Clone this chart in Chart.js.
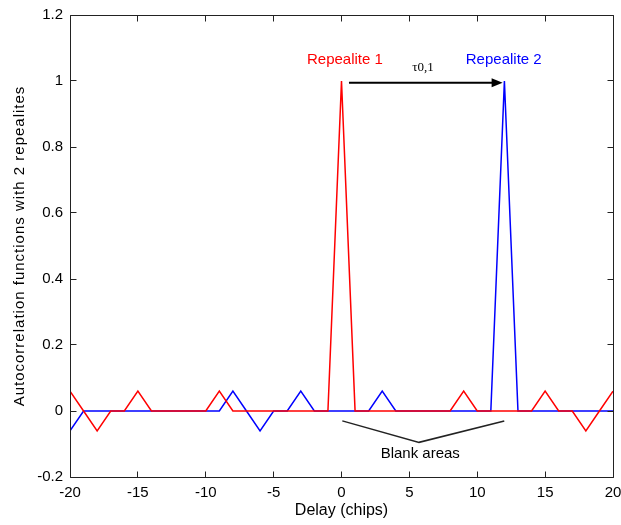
<!DOCTYPE html>
<html>
<head>
<meta charset="utf-8">
<script src="https://cdn.jsdelivr.net/npm/chart.js@4"></script>
<style>
  html, body { margin: 0; padding: 0; background: #fff; }
  canvas { display: block; }
</style>
</head>
<body>
<canvas id="acfChart" width="621" height="525"></canvas>
<script>
// delay axis (chips)
const delays = [-20, -19, -18, -17, -16, -15, -14, -13, -12, -11, -10, -9, -8, -7, -6, -5, -4, -3, -2, -1,
                0, 1, 2, 3, 4, 5, 6, 7, 8, 9, 10, 11, 12, 13, 14, 15, 16, 17, 18, 19, 20];

// autocorrelation of repealite 1 (peak at 0)
const repealite1 = [0.06, 0, -0.06, 0, 0, 0.06, 0, 0, 0, 0, 0, 0.06, 0, 0, 0, 0, 0, 0, 0, 0,
                    1, 0, 0, 0, 0, 0, 0, 0, 0, 0.06, 0, 0, 0, 0, 0, 0.06, 0, 0, -0.06, 0, 0.06];

// autocorrelation of repealite 2 (peak at 12)
const repealite2 = [-0.06, 0, 0, 0, 0, 0, 0, 0, 0, 0, 0, 0, 0.06, 0, -0.06, 0, 0, 0.06, 0, 0,
                    0, 0, 0, 0.06, 0, 0, 0, 0, 0, 0, 0, 0, 1, 0, 0, 0, 0, 0, 0, 0, 0];

const xTicks = [-20, -15, -10, -5, 0, 5, 10, 15, 20];
const yTicks = [-0.2, 0, 0.2, 0.4, 0.6, 0.8, 1, 1.2];

const xTitle = 'Delay (chips)';
const yTitle = 'Autocorrelation functions with 2 repealites';

// text annotations (data coordinates)
const notes = [
    { text: 'Repealite 1', x: 0.25, y: 1.064, color: '#ff0000' },
    { text: 'Repealite 2', x: 11.95, y: 1.064, color: '#0000ff' },
    { text: 'Blank areas', x: 5.8, y: -0.13, color: '#000000' }
];
const tauNote = { text: 'τ0,1', x: 6.0, y: 1.04 };
const arrowFrom = [0.55, 0.995];
const arrowTo = [11.87, 0.995];
const bracePts = [[0.06, -0.03], [5.71, -0.095], [11.99, -0.03]];

const FONT = '"Liberation Sans", Arial, sans-serif';

// 축, 눈금 (MATLAB 스타일 박스 + 안쪽 눈금)
const boxAxes = {
    id: 'boxAxes',
    afterDatasetsDraw(chart) {
        const { ctx, chartArea: a, scales: { x, y } } = chart;
        const tl = 6;
        const L = Math.floor(a.left) + 0.5, R = Math.floor(a.right) + 0.5;
        const T = Math.floor(a.top) + 0.5, B = Math.floor(a.bottom) + 0.5;
        ctx.save();
        ctx.strokeStyle = '#222';
        ctx.lineWidth = 1;
        ctx.beginPath();
        ctx.rect(L, T, R - L, B - T);
        xTicks.forEach(v => {
            const px = Math.floor(x.getPixelForValue(v)) + 0.5;
            ctx.moveTo(px, B); ctx.lineTo(px, B - tl);
            ctx.moveTo(px, T); ctx.lineTo(px, T + tl);
        });
        yTicks.forEach(v => {
            const py = Math.floor(y.getPixelForValue(v)) + 0.5;
            ctx.moveTo(L, py); ctx.lineTo(L + tl, py);
            ctx.moveTo(R, py); ctx.lineTo(R - tl, py);
        });
        ctx.stroke();

        // y 축 제목 (글자 간격 넓게)
        ctx.font = '15px ' + FONT;
        ctx.fillStyle = '#000';
        ctx.textAlign = 'center';
        ctx.textBaseline = 'middle';
        if ('letterSpacing' in ctx) ctx.letterSpacing = '1px';
        ctx.translate(20, (a.top + a.bottom) / 2);
        ctx.rotate(-Math.PI / 2);
        ctx.fillText(yTitle, 0, 0);
        ctx.restore();
    }
};

// 주석: 라벨, 화살표, 괄호선
const annotations = {
    id: 'annotations',
    afterDatasetsDraw(chart) {
        const { ctx, scales: { x, y } } = chart;
        ctx.save();
        ctx.textAlign = 'center';
        ctx.textBaseline = 'middle';
        ctx.font = '15px ' + FONT;
        notes.forEach(n => {
            ctx.fillStyle = n.color;
            ctx.fillText(n.text, x.getPixelForValue(n.x), y.getPixelForValue(n.y));
        });
        ctx.font = '13px "Liberation Serif", "Times New Roman", serif';
        ctx.fillStyle = '#000';
        ctx.fillText(tauNote.text, x.getPixelForValue(tauNote.x), y.getPixelForValue(tauNote.y));

        // arrow
        const x0 = x.getPixelForValue(arrowFrom[0]);
        const x1 = x.getPixelForValue(arrowTo[0]);
        const ya = y.getPixelForValue(arrowFrom[1]);
        ctx.strokeStyle = '#000';
        ctx.lineWidth = 2;
        ctx.beginPath();
        ctx.moveTo(x0, ya);
        ctx.lineTo(x1 - 8, ya);
        ctx.stroke();
        ctx.beginPath();
        ctx.moveTo(x1, ya);
        ctx.lineTo(x1 - 11, ya - 4.5);
        ctx.lineTo(x1 - 11, ya + 4.5);
        ctx.closePath();
        ctx.fill();

        // blank areas bracket
        ctx.strokeStyle = '#222';
        ctx.lineWidth = 1.5;
        ctx.beginPath();
        bracePts.forEach((p, i) => {
            const px = x.getPixelForValue(p[0]);
            const py = y.getPixelForValue(p[1]);
            if (i === 0) ctx.moveTo(px, py); else ctx.lineTo(px, py);
        });
        ctx.stroke();
        ctx.restore();
    }
};

const ctx = document.getElementById('acfChart').getContext('2d');
new Chart(ctx, {
    type: 'line',
    data: {
        datasets: [
            {
                label: 'Repealite 1',
                data: delays.map((d, i) => ({ x: d, y: repealite1[i] })),
                borderColor: '#ff0000',
                borderWidth: 1.5,
                pointRadius: 0,
                tension: 0
            },
            {
                label: 'Repealite 2',
                data: delays.map((d, i) => ({ x: d, y: repealite2[i] })),
                borderColor: '#0000ff',
                borderWidth: 1.5,
                pointRadius: 0,
                tension: 0
            }
        ]
    },
    options: {
        responsive: false,
        animation: false,
        layout: { padding: { left: 0, top: 15, right: 8, bottom: 0 } },
        plugins: {
            legend: { display: false },
            tooltip: { enabled: false }
        },
        scales: {
            x: {
                type: 'linear',
                min: -20,
                max: 20,
                grid: { display: false, drawTicks: false },
                border: { display: false },
                ticks: {
                    padding: 7,
                    color: '#000',
                    font: { family: FONT, size: 15 },
                    maxRotation: 0
                },
                afterBuildTicks: s => { s.ticks = xTicks.map(v => ({ value: v })); },
                afterFit: s => { s.height = 48; s.paddingLeft = 0; s.paddingRight = 0; },
                title: {
                    display: true,
                    text: xTitle,
                    color: '#000',
                    font: { family: FONT, size: 16 },
                    padding: { top: 0, bottom: 5 }
                }
            },
            y: {
                min: -0.2,
                max: 1.2,
                grid: { display: false, drawTicks: false },
                border: { display: false },
                ticks: {
                    padding: 7,
                    color: '#000',
                    font: { family: FONT, size: 15 },
                    callback: v => String(Math.round(v * 10) / 10)
                },
                afterBuildTicks: s => { s.ticks = yTicks.map(v => ({ value: v })); },
                afterFit: s => { s.width = 70; s.paddingTop = 0; s.paddingBottom = 0; }
            }
        }
    },
    plugins: [boxAxes, annotations]
});
</script>
</body>
</html>
